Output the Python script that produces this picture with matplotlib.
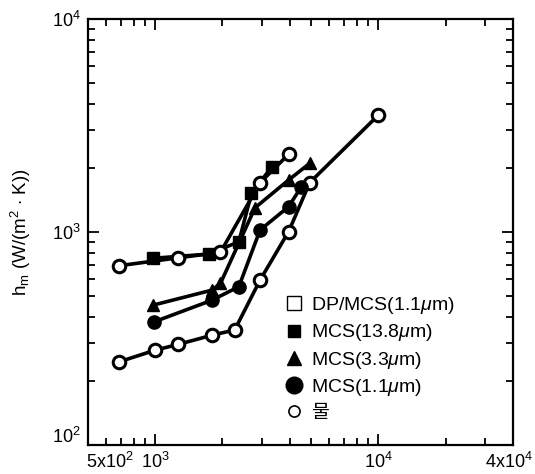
import matplotlib
matplotlib.use("Agg")
import matplotlib.pyplot as plt
import matplotlib.transforms as mtransforms
from matplotlib.lines import Line2D
from matplotlib.ticker import FixedLocator, LogLocator, NullFormatter

plt.rcParams['font.family'] = ['Liberation Sans', 'Noto Sans CJK KR', 'DejaVu Sans']
plt.rcParams['mathtext.fontset'] = 'custom'
plt.rcParams['mathtext.rm'] = 'Liberation Sans'
plt.rcParams['mathtext.it'] = 'Liberation Sans:italic'

# data
water_x = [690, 1000, 1270, 1800, 2270, 2950, 3960, 4920, 10000]
water_y = [246, 279, 297, 328, 347, 595, 1004, 1705, 3540]

dp_x = [690, 1270, 1960, 2950, 3960]
dp_y = [695, 757, 803, 1705, 2316]

mcs138_x = [980, 1740, 2370, 2700, 3340]
mcs138_y = [753, 788, 900, 1520, 2030]

mcs33_x = [980, 1800, 1960, 2800, 3960, 4920]
mcs33_y = [454, 534, 574, 1300, 1754, 2100]

mcs11_x = [990, 1800, 2370, 2950, 3960, 4520]
mcs11_y = [379, 479, 554, 1022, 1315, 1633]

xtick_vals = [5e2, 1e3, 1e4, 4e4]
xtick_labels = ['5x10$^2$', '10$^3$', '10$^4$', '4x10$^4$']
ytick_vals = [1e2, 1e3, 1e4]
ytick_labels = ['10$^2$', '10$^3$', '10$^4$']

legend_labels = ['DP/MCS(1.1$\\mu$m)', 'MCS(13.8$\\mu$m)', 'MCS(3.3$\\mu$m)',
                 'MCS(1.1$\\mu$m)', '물']

fig = plt.figure(figsize=(5.35, 4.74), dpi=100)
ax = fig.add_axes([0.1645, 0.061, 0.794, 0.899])

lw = 2.6
ax.plot(water_x, water_y, '-o', color='black', lw=lw, ms=9, mfc='white', mec='black', mew=2.2, zorder=3)
ax.plot(mcs11_x, mcs11_y, '-o', color='black', lw=lw, ms=9.5, zorder=3)
ax.plot(mcs33_x, mcs33_y, '-^', color='black', lw=lw, ms=9, zorder=3)
ax.plot(mcs138_x, mcs138_y, '-s', color='black', lw=lw, ms=8.5, zorder=3)
ax.plot(dp_x, dp_y, '-o', color='black', lw=lw, ms=9, mfc='white', mec='black', mew=2.2, zorder=4)

ax.set_xscale('log')
ax.set_yscale('log')
ax.set_xlim(5e2, 4e4)
ax.set_ylim(1e2, 1e4)

ax.xaxis.set_major_locator(FixedLocator(xtick_vals))
ax.set_xticklabels(xtick_labels)
ax.xaxis.set_minor_locator(LogLocator(base=10, subs=range(2, 10)))
ax.xaxis.set_minor_formatter(NullFormatter())
ax.yaxis.set_major_locator(FixedLocator(ytick_vals))
ax.set_yticklabels(ytick_labels)
ax.yaxis.set_minor_locator(LogLocator(base=10, subs=range(2, 10)))
ax.yaxis.set_minor_formatter(NullFormatter())

ax.tick_params(which='both', direction='in', top=True, right=True, labelsize=13, width=1.3)
ax.tick_params(which='major', length=8, pad=5)
ax.tick_params(which='minor', length=5)
for s in ax.spines.values():
    s.set_linewidth(1.6)

# nudge the end labels the way the reference places them
xl = ax.get_xticklabels()
xl[0].set_horizontalalignment('left')
xl[0].set_transform(xl[0].get_transform() + mtransforms.ScaledTranslation(-2 / 100, 0, fig.dpi_scale_trans))
xl[-1].set_horizontalalignment('right')
xl[-1].set_transform(xl[-1].get_transform() + mtransforms.ScaledTranslation(20 / 100, 0, fig.dpi_scale_trans))
yl = ax.get_yticklabels()
yl[0].set_transform(yl[0].get_transform() + mtransforms.ScaledTranslation(0, 10 / 100, fig.dpi_scale_trans))

ax.set_ylabel('h$_\\mathrm{m}$ (W/(m$^2$ $\\cdot$ K))', fontsize=13.5, labelpad=14)

handles = [
    Line2D([], [], ls='none', marker='s', ms=10, mfc='white', mec='black', mew=1.0),
    Line2D([], [], ls='none', marker='s', ms=8.5, color='black'),
    Line2D([], [], ls='none', marker='^', ms=9.5, color='black'),
    Line2D([], [], ls='none', marker='o', ms=12, color='black'),
    Line2D([], [], ls='none', marker='o', ms=8, mfc='white', mec='black', mew=1.2),
]
ax.legend(handles, legend_labels, loc='upper left', bbox_to_anchor=(0.44, 0.375),
          frameon=False, fontsize=14, handlelength=1.0, handletextpad=0.35,
          labelspacing=0.33, borderpad=0)

fig.savefig('out.png', dpi=100)
